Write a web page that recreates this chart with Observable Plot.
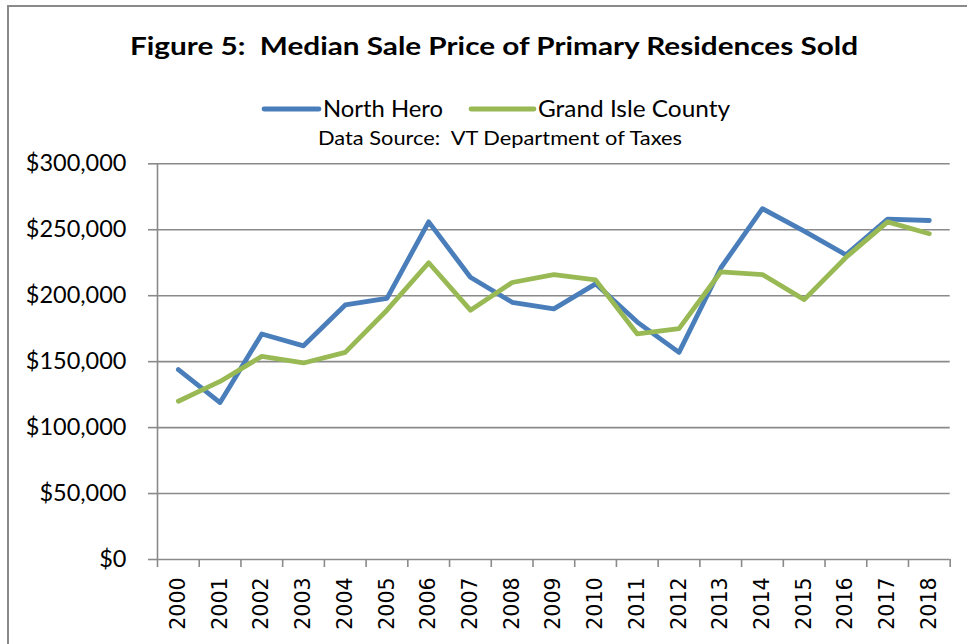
<!DOCTYPE html>
<html>
<head>
<meta charset="utf-8">
<script src="https://cdn.jsdelivr.net/npm/d3@7"></script>
<script src="https://cdn.jsdelivr.net/npm/@observablehq/plot@0.6"></script>
<style>
  html, body { margin: 0; padding: 0; background: #fff; }
  #wrap { position: relative; width: 967px; height: 644px; overflow: hidden; }
  #frame { position: absolute; left: 7px; top: 5px; width: 1000px; height: 700px; border-left: 2px solid #8a8a8a; border-top: 2px solid #8a8a8a; }
  #chart { position: absolute; left: 0; top: 0; }
  #overlay { position: absolute; left: 0; top: 0; }
  #overlay text { white-space: pre; }
</style>
</head>
<body>
<div id="wrap">
  <div id="frame"></div>
  <div id="chart"></div>
  <svg id="overlay" width="967" height="160"></svg>
</div>
<script>
const title = "Figure 5:  Median Sale Price of Primary Residences Sold";
const subtitle = "Data Source:  VT Department of Taxes";
const seriesNames = ["North Hero", "Grand Isle County"];
const seriesColors = ["#4a7ebb", "#98b954"];
const years = [2000, 2001, 2002, 2003, 2004, 2005, 2006, 2007, 2008, 2009, 2010, 2011, 2012, 2013, 2014, 2015, 2016, 2017, 2018];
const northHero = [144000, 119000, 171000, 162000, 193000, 198000, 256000, 214000, 195000, 190000, 209000, 180000, 157000, 221000, 266000, 249000, 231000, 258000, 257000];
const grandIsle = [120000, 135000, 154000, 149000, 157000, 189000, 225000, 189000, 210000, 216000, 212000, 171000, 175000, 218000, 216000, 197000, 229000, 256000, 247000];
const yTicks = [0, 50000, 100000, 150000, 200000, 250000, 300000];

const rows = [];
years.forEach((yr, i) => {
  rows.push({year: yr, value: northHero[i], series: seriesNames[0]});
  rows.push({year: yr, value: grandIsle[i], series: seriesNames[1]});
});
const bounds = years.map(y => y - 0.5).concat([years[years.length - 1] + 0.5]);
const gridColor = "#8a8a8a";

const plot = Plot.plot({
  width: 967,
  height: 644,
  marginLeft: 157,
  marginRight: 17.3,
  marginTop: 163.3,
  marginBottom: 85,
  style: {background: "transparent", overflow: "visible"},
  x: {type: "linear", domain: [bounds[0], bounds[bounds.length - 1]], label: null},
  y: {domain: [0, 300000], label: null},
  color: {domain: seriesNames, range: seriesColors},
  marks: [
    Plot.gridY(yTicks, {stroke: gridColor, strokeOpacity: 1, strokeWidth: 1.6}),
    Plot.ruleX([bounds[0]], {stroke: gridColor, strokeWidth: 1.6}),
    Plot.axisY({ticks: yTicks, label: null, tickSize: 9, tickPadding: 22, tickFormat: d3.format("$,"),
      stroke: gridColor, strokeWidth: 1.6, fontSize: 23.5, fontFamily: "Lato", fill: "#000"}),
    Plot.axisX({ticks: bounds, label: null, tickSize: 8, tickFormat: () => "", stroke: gridColor, strokeWidth: 1.6}),
    Plot.axisX({ticks: years, label: null, tickSize: 0, tickPadding: 18, tickRotate: -90, tickFormat: d => String(d),
      fontSize: 20.5, fontFamily: "DejaVu Sans", fill: "#000"}),
    Plot.line(rows, {x: "year", y: "value", z: "series", stroke: "series", strokeWidth: 4.8,
      strokeLinecap: "round", strokeLinejoin: "round"})
  ]
});
document.getElementById("chart").appendChild(plot);

// Title, legend and subtitle
const ov = d3.select("#overlay");
ov.append("text").attr("x", 130).attr("y", 55)
  .attr("textLength", 728).attr("lengthAdjust", "spacingAndGlyphs")
  .attr("font-family", "Lato").attr("font-weight", "bold").attr("font-size", 25).attr("fill", "#000").text(title);
const legend = [{x1: 264, x2: 319, tx: 323, len: 120}, {x1: 471, x2: 534, tx: 538, len: 192}];
legend.forEach((l, i) => {
  ov.append("line").attr("x1", l.x1).attr("x2", l.x2).attr("y1", 109).attr("y2", 109)
    .attr("stroke", seriesColors[i]).attr("stroke-width", 4.8).attr("stroke-linecap", "round");
  ov.append("text").attr("x", l.tx).attr("y", 117).attr("font-family", "Lato").attr("font-size", 22.5)
    .attr("textLength", l.len).attr("lengthAdjust", "spacingAndGlyphs")
    .attr("fill", "#000").text(seriesNames[i]);
});
ov.append("text").attr("x", 318).attr("y", 145)
  .attr("textLength", 364).attr("lengthAdjust", "spacingAndGlyphs")
  .attr("font-family", "Lato").attr("font-size", 20).attr("fill", "#000").text(subtitle);
</script>
</body>
</html>
